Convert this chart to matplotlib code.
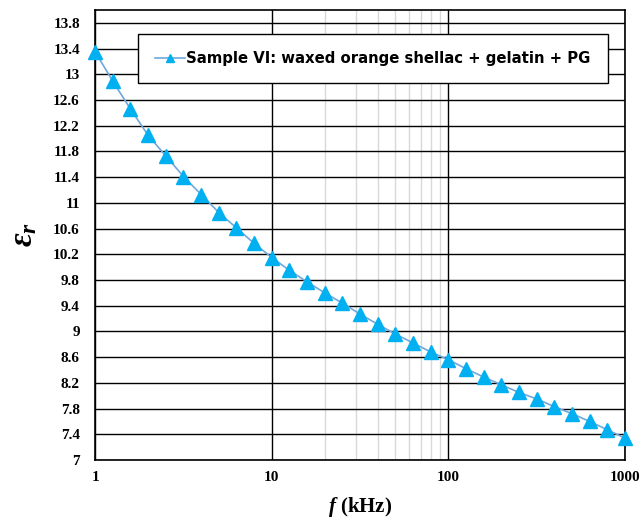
import matplotlib
matplotlib.use("Agg")
import matplotlib.pyplot as plt
from matplotlib.ticker import FixedLocator, NullLocator, FixedFormatter

# frequency in kHz (10 points per decade) and relative permittivity
freq_khz = [1, 1.259, 1.585, 1.995, 2.512, 3.162, 3.981, 5.012, 6.310, 7.943,
            10, 12.59, 15.85, 19.95, 25.12, 31.62, 39.81, 50.12, 63.10, 79.43,
            100, 125.9, 158.5, 199.5, 251.2, 316.2, 398.1, 501.2, 631.0, 794.3,
            1000]
eps_r = [13.35, 12.89, 12.46, 12.05, 11.73, 11.41, 11.13, 10.85, 10.61, 10.37,
         10.15, 9.95, 9.77, 9.60, 9.44, 9.27, 9.11, 8.96, 8.82, 8.68,
         8.56, 8.42, 8.29, 8.17, 8.05, 7.95, 7.83, 7.72, 7.60, 7.47,
         7.34]
series_label = "Sample VI: waxed orange shellac + gelatin + PG"
x_ticks = [1, 10, 100, 1000]
y_ticks = [7, 7.4, 7.8, 8.2, 8.6, 9, 9.4, 9.8, 10.2, 10.6, 11, 11.4, 11.8,
           12.2, 12.6, 13, 13.4, 13.8]
minor_lines = [20, 30, 40, 50, 60, 70, 80, 90]

plt.rcParams["mathtext.fontset"] = "custom"
plt.rcParams["mathtext.it"] = "Liberation Serif:italic:bold"
plt.rcParams["mathtext.rm"] = "Liberation Serif:bold"

fig = plt.figure(figsize=(6.43, 5.19), dpi=100)
ax = fig.add_axes([0.148, 0.1137, 0.824, 0.867])

ax.set_xscale("log")
ax.set_xlim(1, 1000)
ax.set_ylim(7, 14)

for xv in minor_lines:
    ax.axvline(xv, color="#d9d9d9", lw=1, zorder=0.5)
for xv in x_ticks:
    ax.axvline(xv, color="black", lw=1, zorder=0.6)
for yv in y_ticks:
    ax.axhline(yv, color="black", lw=1, zorder=0.6)

ax.plot(freq_khz, eps_r, color="#6fa8dc", lw=1.2, marker="^", markersize=9.5,
        markerfacecolor="#00b0f0", markeredgecolor="#00b0f0", label=series_label,
        clip_on=False, zorder=3)

ax.xaxis.set_major_locator(FixedLocator(x_ticks))
ax.xaxis.set_major_formatter(FixedFormatter([str(v) for v in x_ticks]))
ax.xaxis.set_minor_locator(NullLocator())
ax.set_yticks(y_ticks)
ax.set_yticklabels([f"{v:g}" for v in y_ticks])
ax.tick_params(axis="x", length=0, pad=8)
ax.tick_params(axis="y", length=0, pad=11)
for lab in ax.get_xticklabels() + ax.get_yticklabels():
    lab.set_fontfamily("Liberation Serif")
    lab.set_fontweight("bold")
    lab.set_fontsize(11)

for s in ax.spines.values():
    s.set_color("black")
    s.set_linewidth(1.2)

ax.set_xlabel(r"$f$ (kHz)", fontsize=15, fontfamily="Liberation Serif",
              fontweight="bold", labelpad=8)
ax.set_ylabel(r"$\varepsilon_r$", fontsize=24, labelpad=10)

leg = ax.legend(loc="upper left", bbox_to_anchor=(0.081, 0.947), borderaxespad=0,
                fancybox=False, framealpha=1, edgecolor="black", borderpad=1.15,
                handlelength=2.0, handletextpad=0.1, markerscale=0.6,
                prop={"family": "DejaVu Sans", "weight": "bold", "size": 10.7})
leg.get_frame().set_linewidth(1.0)

fig.savefig("out.png", dpi=100)
